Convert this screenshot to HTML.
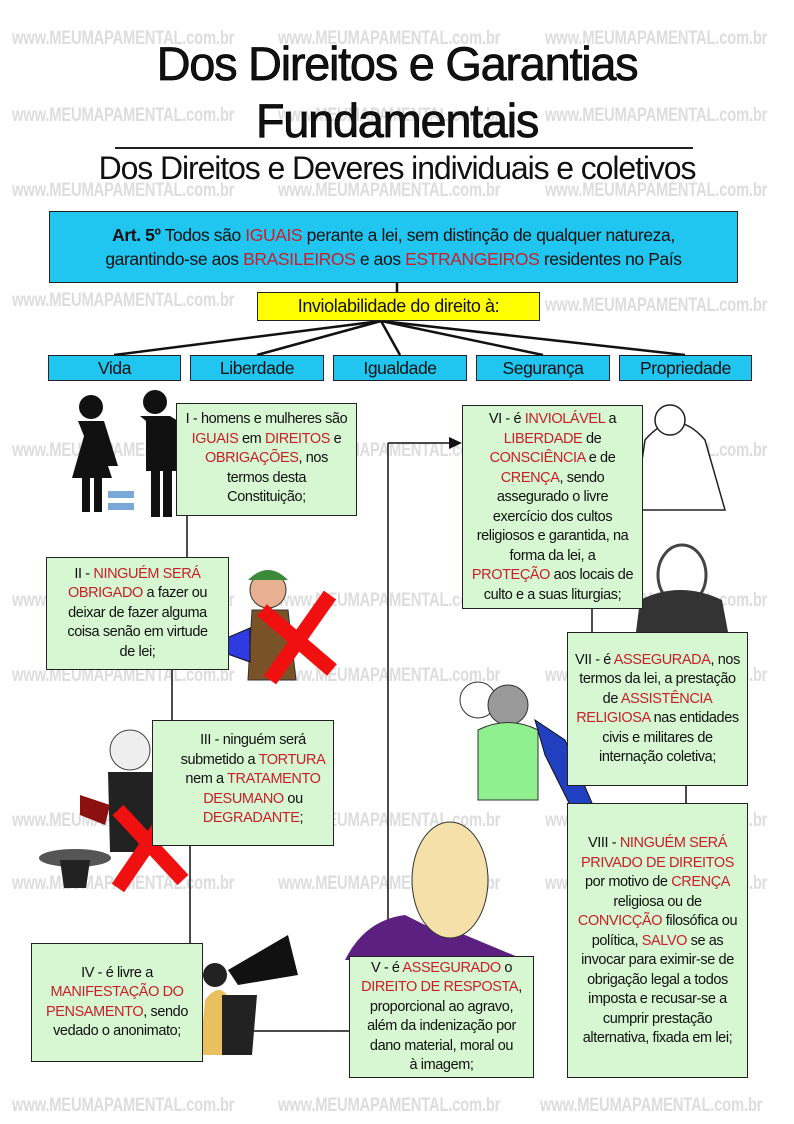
<!DOCTYPE html>
<html><head><meta charset="utf-8"><style>
*{margin:0;padding:0;box-sizing:border-box}
body{width:794px;height:1124px;background:#fff;position:relative;overflow:hidden;font-family:"Liberation Sans",sans-serif;color:#111}
.wm{position:absolute;font-family:"Liberation Sans",sans-serif;font-weight:bold;color:#dddddd;font-size:19px;white-space:nowrap;transform:scaleX(0.78);transform-origin:left top;letter-spacing:-0.3px}
.b{position:absolute;border:1.5px solid #222;text-align:center}
.g{background:#d6f7d2;font-size:14.5px;line-height:19.5px;display:flex;align-items:center;justify-content:center;padding:2px;letter-spacing:-0.4px;white-space:nowrap}
.cat{background:#21c6f0;font-size:17.5px;line-height:24px;top:355px;height:26px;letter-spacing:-0.4px}
.r{color:#c8202a}
h1{position:absolute;left:0;width:794px;text-align:center;font-weight:normal;font-size:47px;line-height:57px;font-family:"Liberation Sans",sans-serif;letter-spacing:-1.3px;-webkit-text-stroke:0.7px #000}
</style></head><body>
<div class="wm" style="left:12px;top:28px">www.MEUMAPAMENTAL.com.br</div>
<div class="wm" style="left:278px;top:28px">www.MEUMAPAMENTAL.com.br</div>
<div class="wm" style="left:545px;top:28px">www.MEUMAPAMENTAL.com.br</div>
<div class="wm" style="left:12px;top:105px">www.MEUMAPAMENTAL.com.br</div>
<div class="wm" style="left:278px;top:105px">www.MEUMAPAMENTAL.com.br</div>
<div class="wm" style="left:545px;top:105px">www.MEUMAPAMENTAL.com.br</div>
<div class="wm" style="left:12px;top:180px">www.MEUMAPAMENTAL.com.br</div>
<div class="wm" style="left:278px;top:180px">www.MEUMAPAMENTAL.com.br</div>
<div class="wm" style="left:545px;top:180px">www.MEUMAPAMENTAL.com.br</div>
<div class="wm" style="left:12px;top:290px">www.MEUMAPAMENTAL.com.br</div>
<div class="wm" style="left:545px;top:295px">www.MEUMAPAMENTAL.com.br</div>
<div class="wm" style="left:12px;top:440px">www.MEUMAPAMENTAL.com.br</div>
<div class="wm" style="left:278px;top:440px">www.MEUMAPAMENTAL.com.br</div>
<div class="wm" style="left:545px;top:440px">www.MEUMAPAMENTAL.com.br</div>
<div class="wm" style="left:12px;top:590px">www.MEUMAPAMENTAL.com.br</div>
<div class="wm" style="left:278px;top:590px">www.MEUMAPAMENTAL.com.br</div>
<div class="wm" style="left:545px;top:590px">www.MEUMAPAMENTAL.com.br</div>
<div class="wm" style="left:12px;top:665px">www.MEUMAPAMENTAL.com.br</div>
<div class="wm" style="left:278px;top:665px">www.MEUMAPAMENTAL.com.br</div>
<div class="wm" style="left:545px;top:665px">www.MEUMAPAMENTAL.com.br</div>
<div class="wm" style="left:12px;top:810px">www.MEUMAPAMENTAL.com.br</div>
<div class="wm" style="left:278px;top:810px">www.MEUMAPAMENTAL.com.br</div>
<div class="wm" style="left:545px;top:810px">www.MEUMAPAMENTAL.com.br</div>
<div class="wm" style="left:12px;top:873px">www.MEUMAPAMENTAL.com.br</div>
<div class="wm" style="left:278px;top:873px">www.MEUMAPAMENTAL.com.br</div>
<div class="wm" style="left:545px;top:873px">www.MEUMAPAMENTAL.com.br</div>
<div class="wm" style="left:12px;top:1095px">www.MEUMAPAMENTAL.com.br</div>
<div class="wm" style="left:278px;top:1095px">www.MEUMAPAMENTAL.com.br</div>
<div class="wm" style="left:540px;top:1095px">www.MEUMAPAMENTAL.com.br</div>

<h1 style="top:35px">Dos Direitos e Garantias</h1>
<h1 style="top:92px">Fundamentais</h1>
<div style="position:absolute;left:115px;top:147px;width:578px;height:2px;background:#222"></div>
<div style="position:absolute;left:0;width:794px;top:148px;text-align:center;font-size:32px;line-height:40px;font-family:'Liberation Sans',sans-serif;letter-spacing:-1.1px">Dos Direitos e Deveres individuais e coletivos</div>

<svg style="position:absolute;left:0;top:0" width="794" height="1124">
<g stroke="#111" stroke-width="2.5" fill="none">
<line x1="397" y1="283" x2="397" y2="292"/>
<line x1="381" y1="321" x2="114" y2="355"/>
<line x1="381" y1="321" x2="257" y2="355"/>
<line x1="381" y1="321" x2="400" y2="355"/>
<line x1="381" y1="321" x2="543" y2="355"/>
<line x1="381" y1="321" x2="685" y2="355"/>
</g>
<g stroke="#111" stroke-width="1.5" fill="none">
<line x1="187" y1="516" x2="187" y2="557"/>
<line x1="172" y1="670" x2="172" y2="720"/>
<line x1="190" y1="846" x2="190" y2="943"/>
<line x1="203" y1="1031" x2="360" y2="1031"/>
<line x1="388" y1="443" x2="388" y2="1031"/>
<line x1="388" y1="443" x2="450" y2="443"/>
<line x1="592" y1="609" x2="592" y2="632"/>
<line x1="686" y1="786" x2="686" y2="803"/>
</g>
<polygon points="462,443 449,437 449,449" fill="#111"/>
<g fill="#111">
<circle cx="91" cy="407" r="12"/><circle cx="155" cy="402" r="12"/>
<path d="M78 421h26l14 45h-10l4 12h-10v34h-8v-34h-4v34h-8v-34h-10l12-42z"/>
<path d="M140 416h30l8 5v50h-6v46h-9v-46h-3v46h-9v-46h-5v-50z"/>
</g>
<rect x="108" y="491" width="26" height="7" fill="#7aa8d8"/><rect x="108" y="503" width="26" height="7" fill="#7aa8d8"/>
<circle cx="268" cy="590" r="18" fill="#e8b090" stroke="#333"/>
<path d="M248 580q20-20 40 0z" fill="#3a8a3a"/>
<path d="M252 610h36l8 70h-48z" fill="#7a5228" stroke="#333"/>
<polygon points="222,640 250,628 250,662 222,652" fill="#2f3ae0" stroke="#111"/>
<path d="M262 610l70 60M330 595l-60 85" stroke="#f01010" stroke-width="15"/>
<circle cx="130" cy="750" r="20" fill="#eee" stroke="#444"/>
<path d="M108 772h46l6 80h-50z" fill="#222"/>
<path d="M80 795l30 10-5 20-25-10z" fill="#8b1010"/>
<ellipse cx="75" cy="858" rx="36" ry="9" fill="#555"/>
<path d="M60 860h30l-4 28h-22z" fill="#222"/>
<path d="M118 810l65 70M178 800l-60 88" stroke="#f01010" stroke-width="15"/>
<path d="M205 1000q15-20 25 0l10 55h-40z" fill="#e8c060"/>
<circle cx="215" cy="975" r="12" fill="#222"/>
<path d="M228 970l60-35 10 40-60 10z" fill="#111"/>
<path d="M222 995h35l-5 60h-30z" fill="#222"/>
<path d="M345 960q20-40 60-45l20 10 40 10 60 25z" fill="#5c2080"/>
<ellipse cx="450" cy="880" rx="38" ry="58" fill="#f4e0a8" stroke="#333"/>
<path d="M645 440q30-35 60 0l20 70-90 0z" fill="#fff" stroke="#222" stroke-width="1.5"/>
<circle cx="670" cy="420" r="15" fill="#fff" stroke="#222" stroke-width="1.5"/>
<ellipse cx="682" cy="575" rx="24" ry="30" fill="#fff" stroke="#444" stroke-width="3"/>
<path d="M640 600q40-20 82 0l6 32h-92z" fill="#333"/>
<circle cx="478" cy="700" r="18" fill="#fff" stroke="#333"/>
<circle cx="508" cy="705" r="20" fill="#999" stroke="#333"/>
<path d="M478 730q30-15 60 0l0 70h-60z" fill="#90f090" stroke="#333"/>
<path d="M535 720l30 20 30 70-20 5-30-60z" fill="#2040c0" stroke="#111"/>
</svg>

<div class="b" style="left:49px;top:211px;width:689px;height:72px;background:#21c6f0;font-size:17.5px;line-height:24px;padding-top:11px;letter-spacing:-0.4px;white-space:nowrap"><b>Art. 5º</b> Todos são <span class="r">IGUAIS</span> perante a lei, sem distinção de qualquer natureza,<br>garantindo-se aos <span class="r">BRASILEIROS</span> e aos <span class="r">ESTRANGEIROS</span> residentes no País</div>
<div class="b" style="left:257px;top:292px;width:283px;height:29px;background:#ffff00;font-size:18px;line-height:26px;letter-spacing:-0.4px">Inviolabilidade do direito à:</div>
<div class="b cat" style="left:48px;width:133px">Vida</div>
<div class="b cat" style="left:190px;width:134px">Liberdade</div>
<div class="b cat" style="left:333px;width:134px">Igualdade</div>
<div class="b cat" style="left:476px;width:134px">Segurança</div>
<div class="b cat" style="left:619px;width:133px">Propriedade</div>

<div class="b g" style="left:176px;top:403px;width:181px;height:113px;align-items:flex-start;padding-top:6px"><div>I - homens e mulheres são<br><span class="r">IGUAIS</span> em <span class="r">DIREITOS</span> e<br><span class="r">OBRIGAÇÕES</span>, nos<br>termos desta<br>Constituição;</div></div>
<div class="b g" style="left:46px;top:557px;width:183px;height:113px"><div>II - <span class="r">NINGUÉM SERÁ</span><br><span class="r">OBRIGADO</span> a fazer ou<br>deixar de fazer alguma<br>coisa senão em virtude<br>de lei;</div></div>
<div class="b g" style="left:152px;top:720px;width:182px;height:126px;padding-left:22px;align-items:flex-start;padding-top:10px"><div>III - ninguém será<br>submetido a <span class="r">TORTURA</span><br>nem a <span class="r">TRATAMENTO</span><br><span class="r">DESUMANO</span> ou<br><span class="r">DEGRADANTE</span>;</div></div>
<div class="b g" style="left:31px;top:943px;width:172px;height:119px"><div>IV - é livre a<br><span class="r">MANIFESTAÇÃO DO</span><br><span class="r">PENSAMENTO</span>, sendo<br>vedado o anonimato;</div></div>
<div class="b g" style="left:349px;top:956px;width:185px;height:122px"><div>V - é <span class="r">ASSEGURADO</span> o<br><span class="r">DIREITO DE RESPOSTA</span>,<br>proporcional ao agravo,<br>além da indenização por<br>dano material, moral ou<br>à imagem;</div></div>
<div class="b g" style="left:462px;top:405px;width:181px;height:204px;align-items:flex-start;padding-top:4px"><div>VI - é <span class="r">INVIOLÁVEL</span> a<br><span class="r">LIBERDADE</span> de<br><span class="r">CONSCIÊNCIA</span> e de<br><span class="r">CRENÇA</span>, sendo<br>assegurado o livre<br>exercício dos cultos<br>religiosos e garantida, na<br>forma da lei, a<br><span class="r">PROTEÇÃO</span> aos locais de<br>culto e a suas liturgias;</div></div>
<div class="b g" style="left:567px;top:632px;width:181px;height:154px"><div>VII - é <span class="r">ASSEGURADA</span>, nos<br>termos da lei, a prestação<br>de <span class="r">ASSISTÊNCIA</span><br><span class="r">RELIGIOSA</span> nas entidades<br>civis e militares de<br>internação coletiva;</div></div>
<div class="b g" style="left:567px;top:803px;width:181px;height:275px;align-items:flex-start;padding-top:30px"><div>VIII - <span class="r">NINGUÉM SERÁ</span><br><span class="r">PRIVADO DE DIREITOS</span><br>por motivo de <span class="r">CRENÇA</span><br>religiosa ou de<br><span class="r">CONVICÇÃO</span> filosófica ou<br>política, <span class="r">SALVO</span> se as<br>invocar para eximir-se de<br>obrigação legal a todos<br>imposta e recusar-se a<br>cumprir prestação<br>alternativa, fixada em lei;</div></div>
</body></html>
